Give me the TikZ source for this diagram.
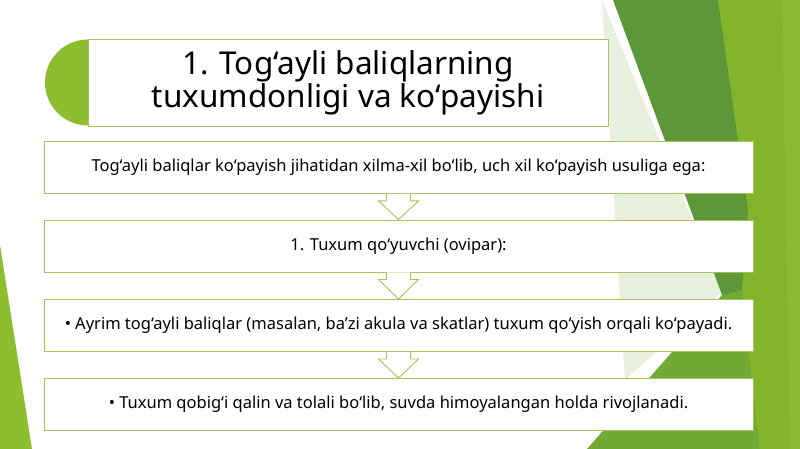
\documentclass[tikz,border=0pt]{standalone}
\usepackage{fontspec}
\setmainfont{Noto Sans}
\usetikzlibrary{calc}
\definecolor{darkgreen}{RGB}{92,151,58}
\definecolor{brightgreen}{RGB}{132,180,44}
\definecolor{midgreen}{RGB}{112,170,52}
\definecolor{palegreen}{RGB}{232,239,222}
\definecolor{leafgreen}{RGB}{140,190,48}
\definecolor{edgegreen}{RGB}{140,186,50}
\definecolor{boxline}{RGB}{170,190,90}
\tikzset{
  titlebox/.style={draw=boxline, fill=white, line width=0.8pt, minimum width=520pt, minimum height=87pt, inner sep=0pt, align=center, font=\fontsize{31.5}{33}\selectfont},
  stepbox/.style={draw=boxline, fill=white, line width=0.9pt, minimum width=709pt, minimum height=52pt, inner sep=0pt, font=\fontsize{16.5}{19}\selectfont},
  arrowbox/.style={draw=boxline, fill=white, line width=0.9pt, line join=miter}
}
\newcommand\hollowdown[2]{%
  \filldraw[arrowbox] let \p1=(#1.south), \p2=(#2.north) in
    (\x1-12pt,\y1) -- (\x1-12pt,\y1-7pt) -- (\x1-20pt,\y1-7pt) -- (\x1,\y2)
    -- (\x1+20pt,\y1-7pt) -- (\x1+12pt,\y1-7pt) -- (\x1+12pt,\y1);
}
\begin{document}
\begin{tikzpicture}[x=1pt,y=-1pt]
\useasboundingbox (0,0) rectangle (800,449);
\fill[white] (0,0) rectangle (800,449);
% background facets
\fill[palegreen] (602,0) -- (722,292) -- (625,380) -- cycle;
\fill[darkgreen] (613,0) -- (730,0) -- (758,210) -- (750,292) -- (722,295) -- cycle;
\fill[midgreen] (587,449) -- (722,295) -- (744,290) -- (762,449) -- cycle;
\fill[brightgreen] (718,0) -- (800,0) -- (800,449) -- (760,449) -- (750,365) -- (742,290) -- (748,210) -- cycle;
\fill[edgegreen] (782,0) -- (800,0) -- (800,449) -- (790,449) -- cycle;
\fill[leafgreen] (0,245) -- (32,449) -- (0,449) -- cycle;
% title half disc
\begin{scope}
  \clip (0,0) rectangle (88,449);
  \fill[leafgreen] (88,82.5) circle[radius=43pt];
\end{scope}
\node[titlebox] (title) at (348,82.5) {1. Tog‘ayli baliqlarning\\tuxumdonligi va ko‘payishi};
% step boxes
\node[stepbox] (b1) at (398.5,167.5) {Tog‘ayli baliqlar ko‘payish jihatidan xilma-xil bo‘lib, uch xil ko‘payish usuliga ega:};
\node[stepbox] (b2) at (398.5,246) {1. Tuxum qo‘yuvchi (ovipar):};
\node[stepbox] (b3) at (398.5,325.5) {• Ayrim tog‘ayli baliqlar (masalan, ba’zi akula va skatlar) tuxum qo‘yish orqali ko‘payadi.};
\node[stepbox] (b4) at (398.5,404.5) {• Tuxum qobig‘i qalin va tolali bo‘lib, suvda himoyalangan holda rivojlanadi.};
% connectors
\hollowdown{b1}{b2}
\hollowdown{b2}{b3}
\hollowdown{b3}{b4}
\end{tikzpicture}
\end{document}
